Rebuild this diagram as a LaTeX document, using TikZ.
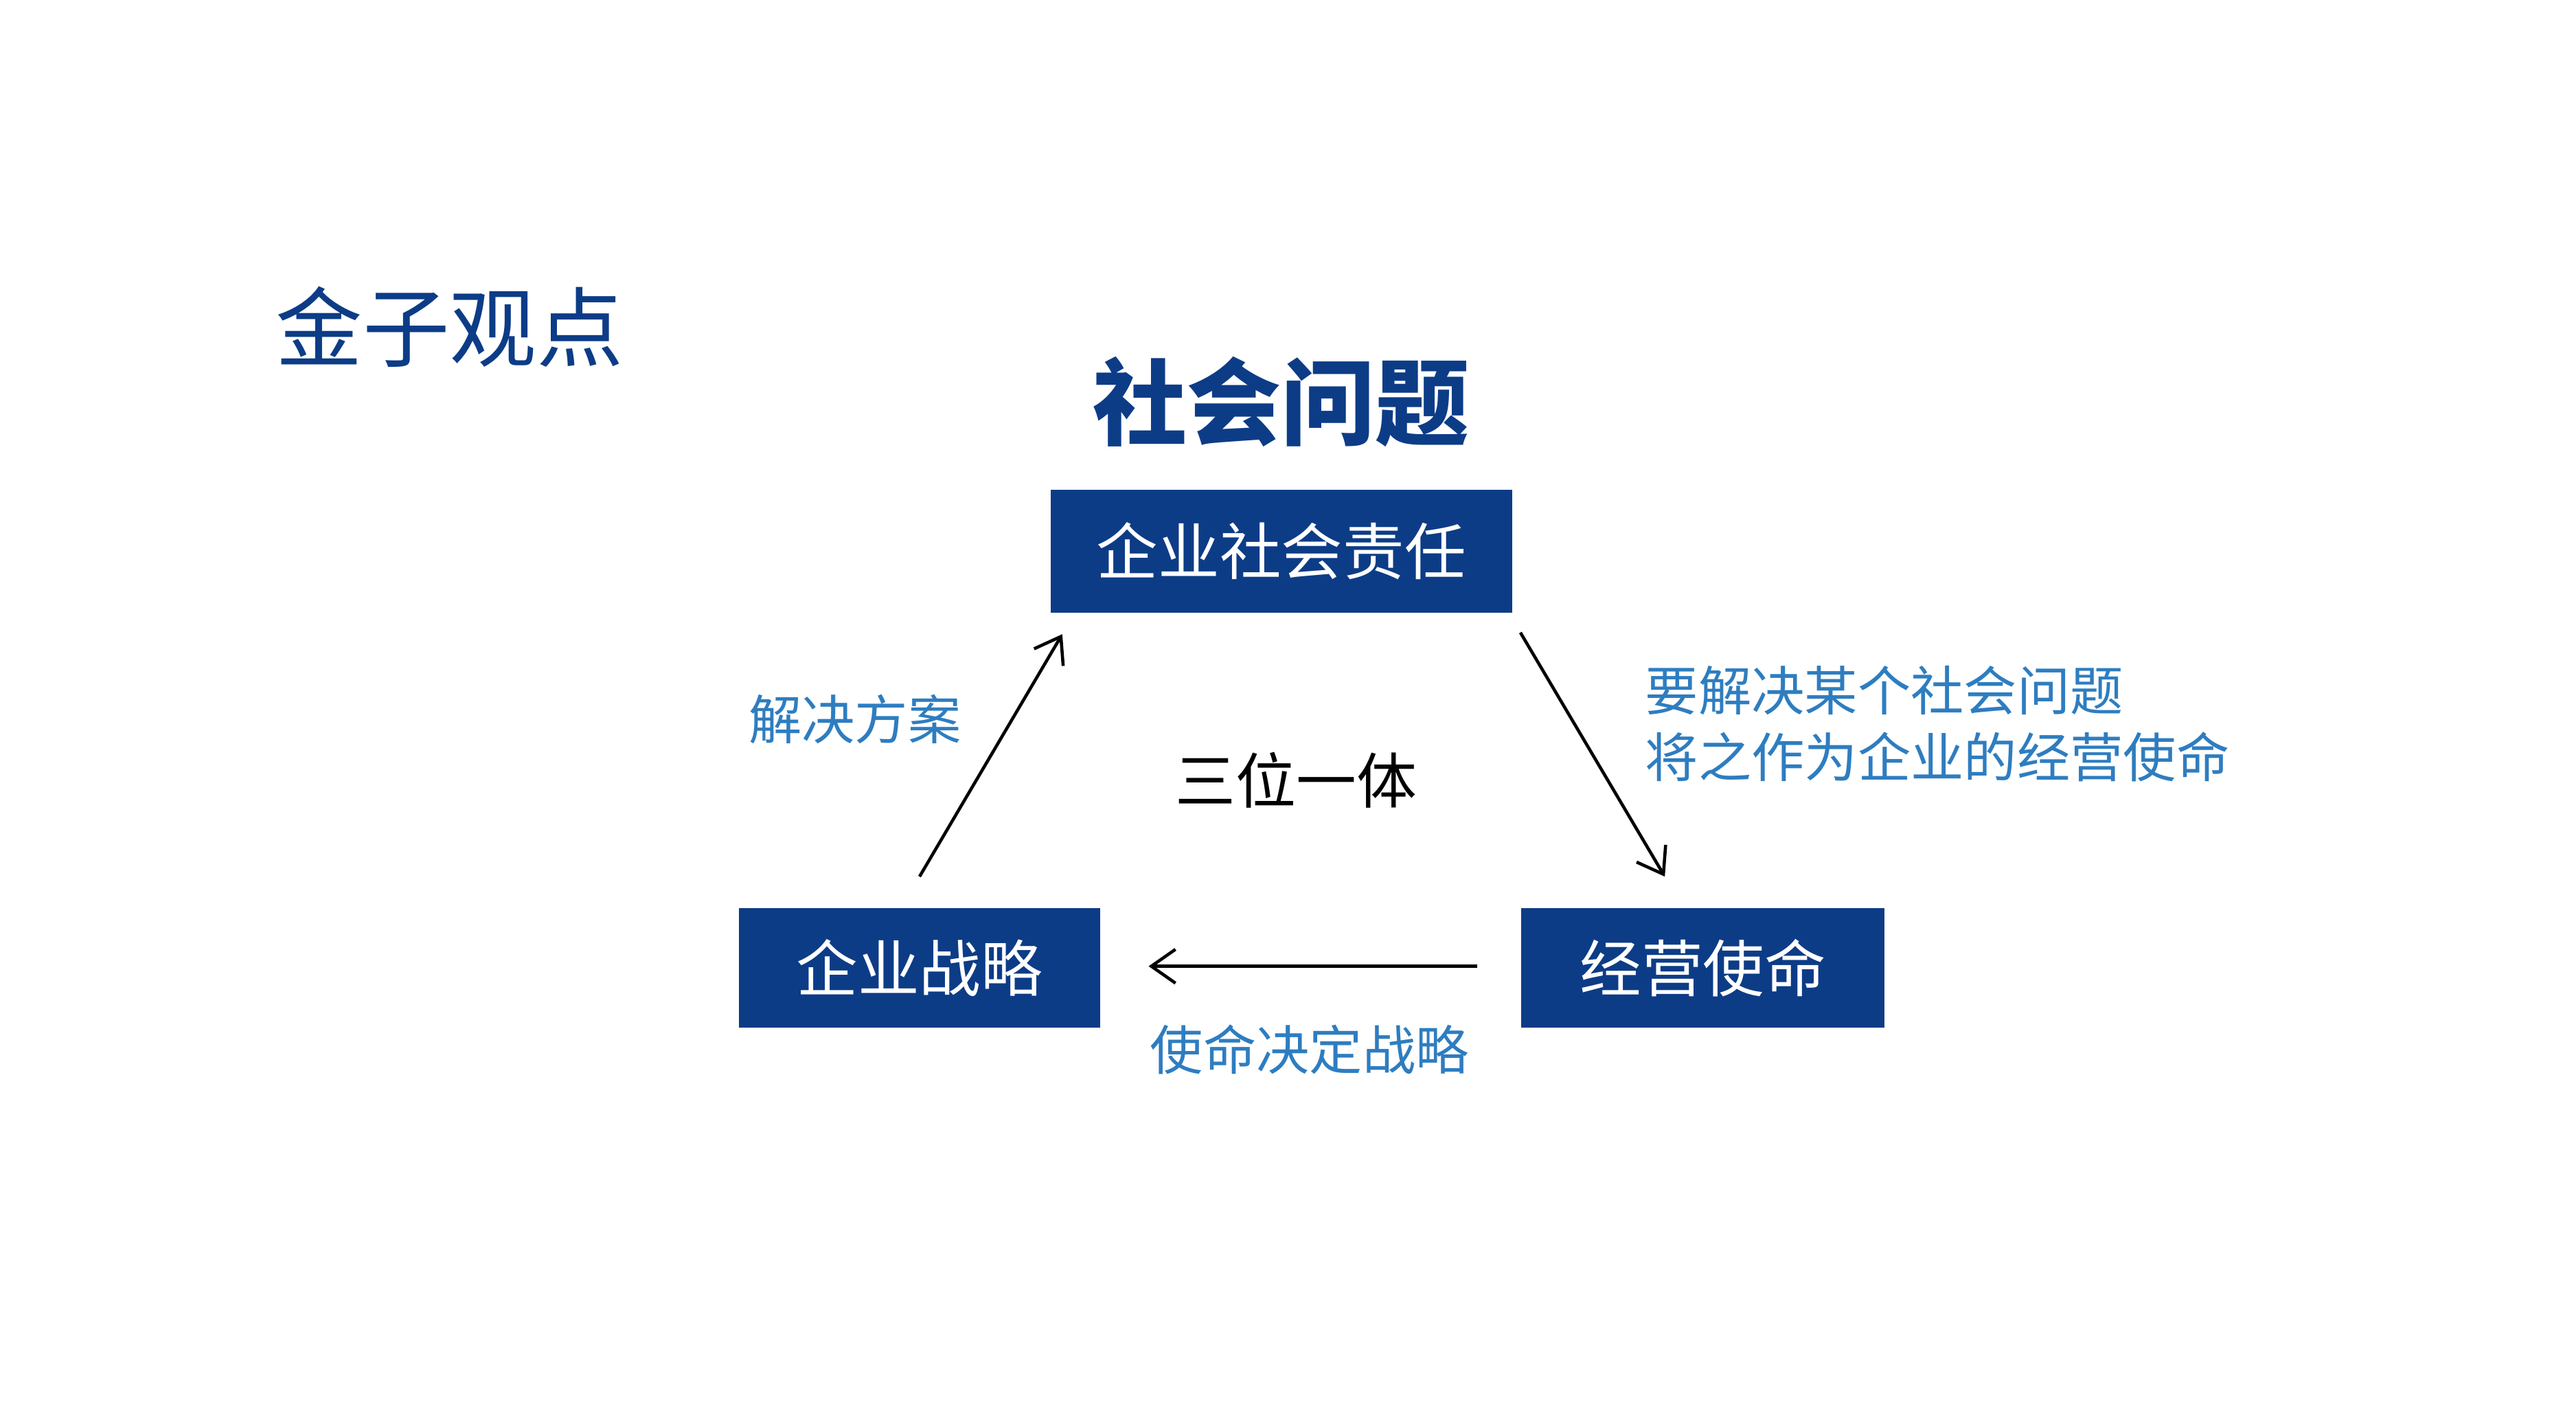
\documentclass[tikz,border=0pt]{standalone}
\usepackage{fontspec}
\setmainfont{Noto Sans CJK SC}
\usetikzlibrary{arrows.meta}
\definecolor{navy}{HTML}{0D3C87}
\definecolor{lblue}{HTML}{2E7DC0}
\begin{document}
\begin{tikzpicture}[x=0.02417cm,y=-0.02417cm,
  box/.style={fill=navy,text=white,font=\fontsize{25.5}{30}\selectfont,inner sep=0,minimum width=#1},
  lab/.style={text=lblue,font=\fontsize{22}{30}\selectfont,inner sep=0},
  arr/.style={-{Straight Barb[length=10pt,width=14pt]},line width=1.3pt,black}]
\useasboundingbox (0,0) rectangle (1552,851);
\node[text=navy,font=\fontsize{36}{40}\selectfont,inner sep=0] (title) at (271,197) {金子观点};
\node[text=navy,font=\fontsize{39}{44}\bfseries\selectfont,inner sep=0] (issue) at (772,242) {社会问题};
\node[box=278*0.02417cm,minimum height=74*0.02417cm] (csr) at (772,332) {企业社会责任};
\node[box=218*0.02417cm,minimum height=72*0.02417cm] (strat) at (554,583) {企业战略};
\node[box=219*0.02417cm,minimum height=72*0.02417cm] (mission) at (1026,583) {经营使命};
\coordinate (a1) at (554,528); \coordinate (a2) at (640,382);
\coordinate (b1) at (916,381); \coordinate (b2) at (1003,528);
\coordinate (c1) at (890,582); \coordinate (c2) at (692,582);
\draw[arr] (a1) -- (a2);
\draw[arr] (b1) -- (b2);
\draw[arr] (c1) -- (c2);
\node[lab] (sol) at (515,433) {解决方案};
\node[inner sep=0,font=\fontsize{25}{30}\selectfont] (one) at (781,470) {三位一体};
\node[lab,anchor=west,align=left,font=\fontsize{22}{27.5}\selectfont] (desc) at (991,436) {要解决某个社会问题\\将之作为企业的经营使命};
\node[lab] (md) at (789,632) {使命决定战略};
\end{tikzpicture}
\end{document}
